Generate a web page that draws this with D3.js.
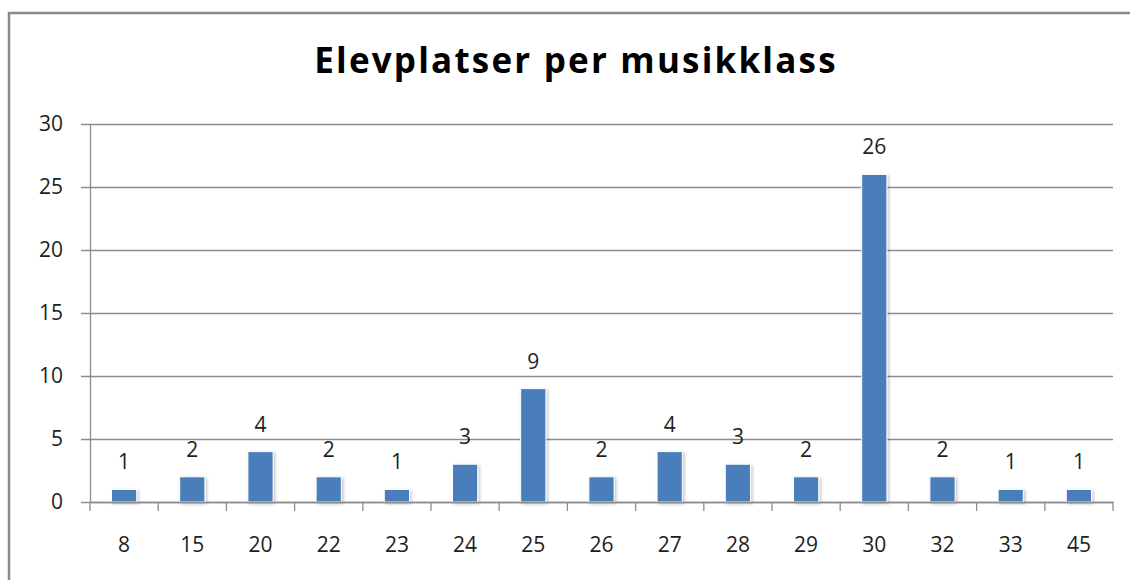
<!DOCTYPE html>
<html>
<head>
<meta charset="utf-8">
<script src="https://cdn.jsdelivr.net/npm/d3@7"></script>
<style>
  body { margin: 0; background: #fff; }
</style>
</head>
<body>
<svg id="chart" width="1130" height="580"></svg>
<script>
let categories = ["8", "15", "20", "22", "23", "24", "25", "26", "27", "28", "29", "30", "32", "33", "45"];
let values = [1, 2, 4, 2, 1, 3, 9, 2, 4, 3, 2, 26, 2, 1, 1];
let yTicks = [0, 5, 10, 15, 20, 25, 30];
let title = "Elevplatser per musikklass";

let barColor = "#4a7ebb";
let gridColor = "#8c8c8c";
let textColor = "#1e1e1e";
let fontName = "Open Sans, Noto Sans, sans-serif";

let svg = d3.select("#chart");
let margin = { left: 90, right: 1113, top: 124, bottom: 502 };

// outer frame, runs off the right and bottom edge like in the screenshot
svg.append("rect")
  .attr("x", 9)
  .attr("y", 13)
  .attr("width", 1200)
  .attr("height", 700)
  .style("fill", "none")
  .style("stroke", "#8a8a8a")
  .style("stroke-width", 2.5);

// soft shadow for the bars
let defs = svg.append("defs");
let filter = defs.append("filter").attr("id", "shadow")
  .attr("x", "-30%").attr("y", "-30%").attr("width", "160%").attr("height", "160%");
filter.append("feDropShadow")
  .attr("dx", 1.5).attr("dy", 1.5).attr("stdDeviation", 1.5)
  .attr("flood-color", "#000").attr("flood-opacity", 0.25);

let x = d3.scaleBand()
  .domain(categories)
  .range([margin.left, margin.right])
  .padding(0);

let y = d3.scaleLinear()
  .domain([0, 30])
  .range([margin.bottom, margin.top]);

// title
svg.append("text")
  .attr("x", 576)
  .attr("y", 73)
  .text(title)
  .style("fill", "#000")
  .style("font-family", fontName)
  .style("font-weight", "bold")
  .style("font-size", "35px")
  .style("letter-spacing", "2.2px")
  .style("text-anchor", "middle");

// gridlines + y axis
let yAxis = d3.axisLeft(y)
  .tickValues(yTicks)
  .tickSize(-(margin.right - margin.left))
  .tickPadding(27)
  .tickSizeOuter(0);

let yG = svg.append("g")
  .attr("transform", "translate(" + margin.left + ",0)")
  .call(yAxis);
yG.select(".domain").style("stroke", gridColor).style("stroke-width", 1.3);
yG.selectAll(".tick line")
  .attr("x1", -9)
  .style("stroke", gridColor)
  .style("stroke-width", 1.3);
yG.selectAll(".tick text")
  .style("fill", textColor)
  .style("font-family", fontName)
  .style("font-size", "21px");

// bars
let barW = x.bandwidth() * 0.37;
svg.selectAll(".bar")
  .data(values)
  .enter().append("rect")
  .attr("class", "bar")
  .attr("x", function(d, i) { return x(categories[i]) + x.bandwidth() / 2 - barW / 2; })
  .attr("y", function(d) { return y(d); })
  .attr("width", barW)
  .attr("height", function(d) { return y(0) - y(d); })
  .style("fill", barColor)
  .style("stroke", "#fff")
  .style("stroke-width", 1)
  .attr("filter", "url(#shadow)");

// x axis
let xAxis = d3.axisBottom(x)
  .tickSize(0)
  .tickPadding(32);
let xG = svg.append("g")
  .attr("transform", "translate(0," + margin.bottom + ")")
  .call(xAxis);
xG.select(".domain").style("stroke", gridColor).style("stroke-width", 1.3);
xG.selectAll(".tick text")
  .attr("dy", null)
  .attr("y", 50)
  .style("fill", textColor)
  .style("font-family", fontName)
  .style("font-size", "21px");

// tick marks on band edges
let edges = categories.map(function(c) { return x(c); }).concat([margin.right]);
xG.selectAll(".edge")
  .data(edges)
  .enter().append("line")
  .attr("class", "edge")
  .attr("x1", function(d) { return d; })
  .attr("x2", function(d) { return d; })
  .attr("y1", 0)
  .attr("y2", 9)
  .style("stroke", gridColor)
  .style("stroke-width", 1.3);

// value labels
svg.selectAll(".label")
  .data(values)
  .enter().append("text")
  .attr("class", "label")
  .attr("x", function(d, i) { return x(categories[i]) + x.bandwidth() / 2; })
  .attr("y", function(d) { return y(d) - 20; })
  .text(function(d) { return d; })
  .style("fill", textColor)
  .style("font-family", fontName)
  .style("font-size", "21px")
  .style("text-anchor", "middle");
</script>
</body>
</html>
